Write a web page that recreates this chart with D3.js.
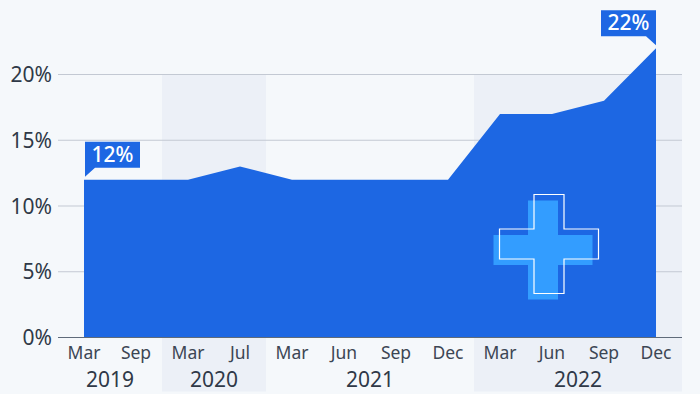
<!DOCTYPE html>
<html>
<head>
<meta charset="utf-8">
<script src="https://cdn.jsdelivr.net/npm/d3@7"></script>
<style>
    html, body { margin: 0; padding: 0; background: #f5f8fb; overflow: hidden; }
    svg { display: block; font-family: "Noto Sans", sans-serif; }
</style>
</head>
<body>
<div id="vis"></div>
<script>
// data
var months = ['Mar', 'Sep', 'Mar', 'Jul', 'Mar', 'Jun', 'Sep', 'Dec', 'Mar', 'Jun', 'Sep', 'Dec'];
var values = [12, 12, 12, 13, 12, 12, 12, 12, 17, 17, 18, 22];
var years = ['2019', '2020', '2021', '2022'];
var yearStart = [0, 2, 4, 8];
var yearEnd = [1, 3, 7, 11];
var shadedYears = ['2020', '2022'];
var yTicks = [0, 5, 10, 15, 20];

var width = 700, height = 394;
var blue = '#1d67e3';

var svg = d3.select('#vis').append('svg')
    .attr('width', width)
    .attr('height', height);

var xScale = d3.scalePoint()
    .domain(d3.range(months.length))
    .range([84, 656]);
var step = xScale.step();

var yScale = d3.scaleLinear()
    .domain([0, 20])
    .range([337.5, 74.5]);

// shaded year bands
years.forEach(function(year, i) {
    if (shadedYears.indexOf(year) < 0) return;
    var x0 = xScale(yearStart[i]) - step / 2;
    var x1 = xScale(yearEnd[i]) + step / 2;
    svg.append('rect')
        .attr('x', x0)
        .attr('y', yScale(20))
        .attr('width', x1 - x0)
        .attr('height', 391.5 - yScale(20))
        .attr('fill', '#ecf0f7');
});

// grid lines
svg.selectAll('.grid')
    .data(yTicks.slice(1))
    .enter()
    .append('line')
    .attr('class', 'grid')
    .attr('x1', 58)
    .attr('x2', 682)
    .attr('y1', function(d) { return yScale(d); })
    .attr('y2', function(d) { return yScale(d); })
    .attr('stroke', '#c3c9d3')
    .attr('stroke-width', 1);

// y labels
svg.selectAll('.ylabel')
    .data(yTicks)
    .enter()
    .append('text')
    .attr('class', 'ylabel')
    .attr('x', 52)
    .attr('y', function(d) { return yScale(d) + 7.5; })
    .attr('text-anchor', 'end')
    .attr('font-size', 21)
    .attr('fill', '#2f3947')
    .text(function(d) { return d + '%'; });

// area
var area = d3.area()
    .x(function(d, i) { return xScale(i); })
    .y0(yScale(0))
    .y1(function(d) { return yScale(d); });

svg.append('path')
    .datum(values)
    .attr('d', area)
    .attr('fill', blue);

// zero line sits on top of the area
svg.append('line')
    .attr('x1', 58)
    .attr('x2', 682)
    .attr('y1', yScale(0))
    .attr('y2', yScale(0))
    .attr('stroke', '#5f6b7a')
    .attr('stroke-width', 1);

// month labels
svg.selectAll('.month')
    .data(months)
    .enter()
    .append('text')
    .attr('class', 'month')
    .attr('x', function(d, i) { return xScale(i); })
    .attr('y', 358.5)
    .attr('text-anchor', 'middle')
    .attr('font-size', 17.5)
    .attr('fill', '#3c4654')
    .text(function(d) { return d; });

// year labels
svg.selectAll('.year')
    .data(years)
    .enter()
    .append('text')
    .attr('class', 'year')
    .attr('x', function(d, i) { return (xScale(yearStart[i]) + xScale(yearEnd[i])) / 2; })
    .attr('y', 387)
    .attr('text-anchor', 'middle')
    .attr('font-size', 21)
    .attr('fill', '#2f3947')
    .text(function(d) { return d; });

// value callouts
function callout(index, side) {
    var px = xScale(index), py = yScale(values[index]);
    var w = 55, h = 26, tail = 10;
    var top = py - 38;
    var bottom = top + h;
    var pts = side > 0
        ? [[px + 1, top], [px + 1 + w, top], [px + 1 + w, bottom], [px + 1 + tail, bottom], [px + 1, py - 3]]
        : [[px - w, top], [px, top], [px, py - 3], [px - tail, bottom], [px - w, bottom]];
    svg.append('path')
        .attr('d', d3.line()(pts) + 'Z')
        .attr('fill', blue);
    svg.append('text')
        .attr('x', side > 0 ? px + 1 + w / 2 : px - w / 2)
        .attr('y', top + 20)
        .attr('text-anchor', 'middle')
        .attr('font-size', 21)
        .attr('font-weight', 500)
        .attr('fill', '#ffffff')
        .text(values[index] + '%');
}
callout(0, 1);
callout(values.length - 1, -1);

// cross icon
function crossPath(x, y) {
    var a = 34.5, b = 30;
    return 'M' + (x + a) + ',' + y
        + 'h' + b + 'v' + a + 'h' + a + 'v' + b + 'h' + (-a) + 'v' + a + 'h' + (-b)
        + 'v' + (-a) + 'h' + (-a) + 'v' + (-b) + 'h' + a + 'Z';
}
svg.append('path')
    .attr('d', crossPath(493.5, 200.5))
    .attr('fill', '#339dff');
svg.append('path')
    .attr('d', crossPath(499.5, 194.5))
    .attr('fill', 'none')
    .attr('stroke', '#ffffff')
    .attr('stroke-width', 1.2);
</script>
</body>
</html>
